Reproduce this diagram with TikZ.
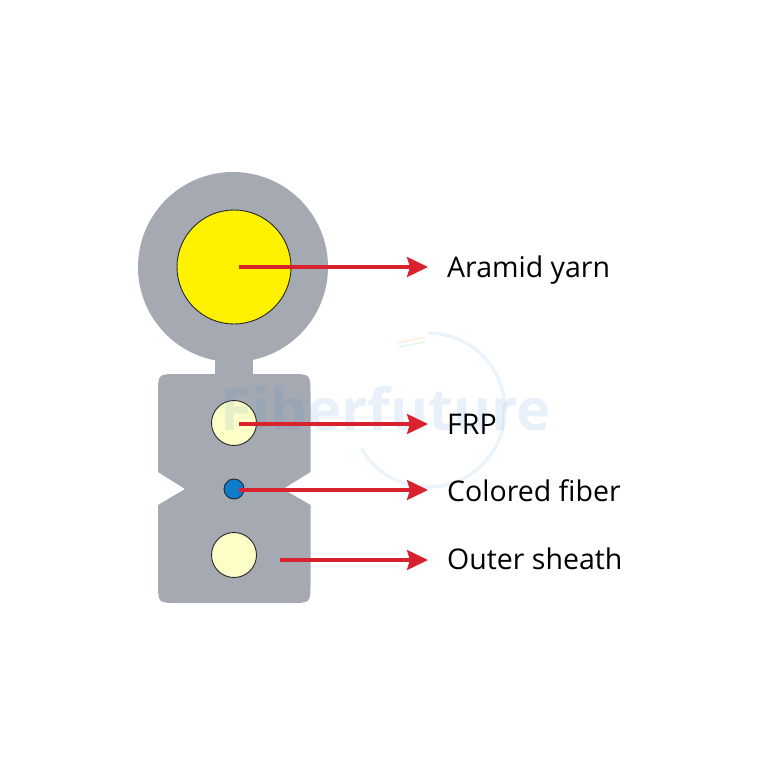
\documentclass[tikz,border=0pt]{standalone}
\usepackage{fontspec}
\setmainfont{Open Sans}
\usetikzlibrary{positioning, arrows.meta}
\definecolor{sheathgray}{HTML}{A5A9B2}
\definecolor{yarnyellow}{HTML}{FFF200}
\definecolor{frpcream}{HTML}{FDFDC8}
\definecolor{fiberblue}{HTML}{0F7CCB}
\definecolor{arrowred}{HTML}{D8232F}
\definecolor{markblue}{HTML}{3F8FD0}
\begin{document}
\begin{tikzpicture}[x=1pt, y=-1pt,
    core/.style={circle, draw=black!85, line width=0.9pt, inner sep=0pt},
    lbl/.style={anchor=base west, inner sep=0pt, font=\fontsize{28.5}{34}\selectfont, text=black},
    pointer/.style={-{Stealth[length=21pt, width=20pt, inset=3pt]}, arrowred, line width=3.3pt, shorten >=19pt}]
    \useasboundingbox (0,0) rectangle (768,768);
    % cable outline
    \fill[sheathgray] (233,267) circle (95);
    \fill[sheathgray] (215,340) rectangle (253,380);
    \fill[sheathgray] (158,394) .. controls (158,374) .. (178,374) -- (290.5,374) .. controls (310.5,374) .. (310.5,394) -- (310.5,472) -- (283,489) -- (310.5,505) -- (310.5,583) .. controls (310.5,603) .. (290.5,603) -- (178,603) .. controls (158,603) .. (158,583) -- (158,505) -- (185,489) -- (158,472) -- cycle;
    % cores
    \node[core, fill=yarnyellow, minimum size=114pt] (yarn) at (234,267) {};
    \node[core, fill=frpcream, minimum size=45pt] (frp) at (234,423) {};
    \node[core, fill=fiberblue, minimum size=20pt] (fiber) at (234,489) {};
    \node[core, fill=frpcream, minimum size=45pt] (lower) at (234,555) {};
    % faint mark
    \node[font=\bfseries\fontsize{58}{66}\selectfont, text=markblue, opacity=0.12, inner sep=0pt] (mark) at (386,409) {Fiberfuture};
    \draw[markblue, opacity=0.1, line width=3.5pt] (428,333) arc (-90:150:77);
    \draw[orange, opacity=0.15, line width=1.5pt] (398,343) -- (425,337);
    \draw[green!60!black, opacity=0.1, line width=1.5pt] (399,347) -- (425,342);
    % labels
    \node[lbl] (yarnlbl) at (447,277) {Aramid yarn};
    \node[lbl] (frplbl) at (447,434) {FRP};
    \node[lbl] (fiberlbl) at (447,501) {Colored fiber};
    \node[lbl] (sheathlbl) at (447,569) {Outer sheath};
    \coordinate (yarnpt) at (239,267);
    \coordinate (frppt) at (239,424);
    \coordinate (fiberpt) at (239,490);
    \coordinate (sheathpt) at (280,560);
    \draw[pointer] (yarnpt) -- (yarnpt -| yarnlbl.west);
    \draw[pointer] (frppt) -- (frppt -| frplbl.west);
    \draw[pointer] (fiberpt) -- (fiberpt -| fiberlbl.west);
    \draw[pointer] (sheathpt) -- (sheathpt -| sheathlbl.west);
\end{tikzpicture}
\end{document}
